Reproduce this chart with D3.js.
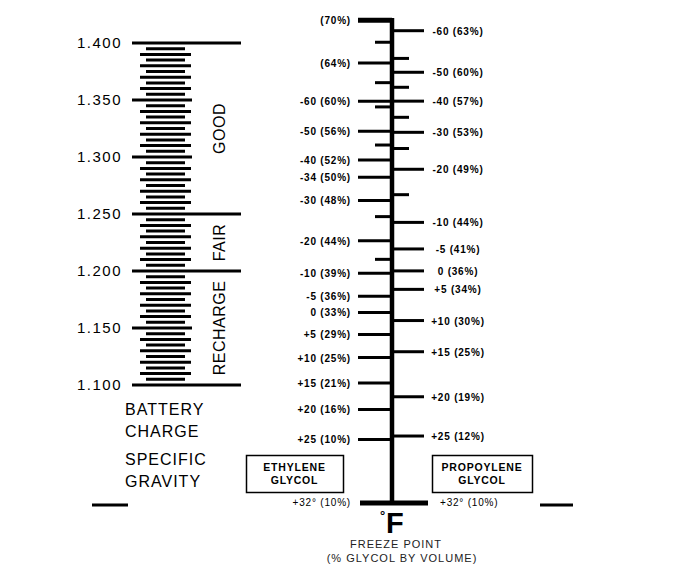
<!DOCTYPE html>
<html>
<head>
<meta charset="utf-8">
<script src="https://cdn.jsdelivr.net/npm/d3@7"></script>
<style>
  body { margin: 0; background: #fff; }
  svg { display: block; }
  text { font-family: "Liberation Sans", Arial, sans-serif; fill: #000; }
</style>
</head>
<body>
<svg id="chart" width="688" height="566"></svg>
<script>
// battery hydrometer scale
var gravityLabels = [1.100, 1.150, 1.200, 1.250, 1.300, 1.350, 1.400];
var zoneNames = ["RECHARGE", "FAIR", "GOOD"];
var zoneLimits = [1.100, 1.200, 1.250, 1.400];

// coolant scale: freeze point (F) and glycol % by volume, placed by hydrometer reading
var ethyleneLabels = ["(70%)", "(64%)", "-60 (60%)", "-50 (56%)", "-40 (52%)", "-34 (50%)",
  "-30 (48%)", "-20 (44%)", "-10 (39%)", "-5 (36%)", "0 (33%)", "+5 (29%)", "+10 (25%)",
  "+15 (21%)", "+20 (16%)", "+25 (10%)", "+32\u00b0  (10%)"];
var ethyleneReadings = [1.418, 1.381, 1.348, 1.322, 1.297, 1.282, 1.262, 1.227, 1.199,
  1.179, 1.165, 1.146, 1.126, 1.104, 1.081, 1.055, 1.000];
var ethyleneMinor = [1.399, 1.364, 1.343, 1.310, 1.248, 1.211];

var propyleneLabels = ["-60 (63%)", "-50 (60%)", "-40 (57%)", "-30 (53%)", "-20 (49%)",
  "-10 (44%)", "-5 (41%)", "0 (36%)", "+5 (34%)", "+10 (30%)", "+15 (25%)", "+20 (19%)",
  "+25 (12%)", "+32\u00b0  (10%)"];
var propyleneReadings = [1.409, 1.373, 1.348, 1.321, 1.289, 1.243, 1.220, 1.201, 1.185,
  1.158, 1.131, 1.092, 1.058, 1.000];
var propyleneMinor = [1.385, 1.360, 1.334, 1.307, 1.267];

var svg = d3.select("#chart");

var yBattery = d3.scaleLinear().domain([1.100, 1.400]).range([385, 43]);
var yCoolant = d3.scaleLinear().domain([1.000, 1.420]).range([503, 18]);

// ---- battery charge scale ----
var bat = svg.append("g");

// fine graduations every .005
var fine = yBattery.ticks(60).filter(function(d) {
  return gravityLabels.indexOf(+d.toFixed(3)) < 0;
});
bat.selectAll("line.fine")
  .data(fine)
  .enter().append("line")
    .attr("class", "fine")
    .attr("x1", function(d) { return Math.round(d * 1000) % 10 == 0 ? 140 : 146; })
    .attr("x2", function(d) { return Math.round(d * 1000) % 10 == 0 ? 191 : 185; })
    .attr("y1", function(d) { return yBattery(d); })
    .attr("y2", function(d) { return yBattery(d); })
    .attr("stroke", "#000")
    .attr("stroke-width", 3);

bat.selectAll("line.major")
  .data(gravityLabels)
  .enter().append("line")
    .attr("class", "major")
    .attr("x1", 132)
    .attr("x2", function(d) { return zoneLimits.indexOf(d) >= 0 ? 241 : 192; })
    .attr("y1", function(d) { return yBattery(d); })
    .attr("y2", function(d) { return yBattery(d); })
    .attr("stroke", "#000")
    .attr("stroke-width", 3);

bat.selectAll("text.glabel")
  .data(gravityLabels)
  .enter().append("text")
    .attr("class", "glabel")
    .attr("x", 122)
    .attr("y", function(d) { return yBattery(d) + 5; })
    .attr("text-anchor", "end")
    .style("font-size", "15px")
    .style("letter-spacing", "1.5px")
    .text(function(d) { return d.toFixed(3); });

bat.selectAll("text.zone")
  .data(zoneNames)
  .enter().append("text")
    .attr("class", "zone")
    .attr("text-anchor", "middle")
    .attr("transform", function(d, i) {
      var mid = yBattery((zoneLimits[i] + zoneLimits[i + 1]) / 2);
      return "translate(225," + mid + ") rotate(-90)";
    })
    .style("font-size", "16px")
    .style("letter-spacing", "0.5px")
    .text(function(d) { return d; });

var caption = [["BATTERY", 415], ["CHARGE", 437], ["SPECIFIC", 465], ["GRAVITY", 487]];
bat.selectAll("text.cap")
  .data(caption)
  .enter().append("text")
    .attr("class", "cap")
    .attr("x", 125)
    .attr("y", function(d) { return d[1]; })
    .style("font-size", "16px")
    .style("letter-spacing", "1px")
    .text(function(d) { return d[0]; });

svg.append("line").attr("x1", 92).attr("x2", 128).attr("y1", 505).attr("y2", 505)
  .attr("stroke", "#000").attr("stroke-width", 3);
svg.append("line").attr("x1", 540).attr("x2", 573).attr("y1", 505).attr("y2", 505)
  .attr("stroke", "#000").attr("stroke-width", 3);

// ---- coolant freeze point scale ----
var axisX = 392;
var cool = svg.append("g");

cool.append("line")
  .attr("x1", axisX).attr("x2", axisX)
  .attr("y1", yCoolant(1.420)).attr("y2", yCoolant(1.000) + 2)
  .attr("stroke", "#000")
  .attr("stroke-width", 4.5);

function side(labels, readings, minor, dir) {
  var g = cool.append("g");
  var last = readings.length - 1;
  g.selectAll("line.minor")
    .data(minor)
    .enter().append("line")
      .attr("x1", axisX)
      .attr("x2", axisX + dir * 17)
      .attr("y1", function(d) { return yCoolant(d); })
      .attr("y2", function(d) { return yCoolant(d); })
      .attr("stroke", "#000")
      .attr("stroke-width", 3);
  g.selectAll("line.tick")
    .data(readings)
    .enter().append("line")
      .attr("x1", axisX)
      .attr("x2", function(d, i) { return axisX + dir * (i == last ? (dir < 0 ? 32 : 36) : (dir < 0 ? 34 : 32)); })
      .attr("y1", function(d) { return yCoolant(d); })
      .attr("y2", function(d) { return yCoolant(d); })
      .attr("stroke", "#000")
      .attr("stroke-width", function(d, i) { return i == last || (dir < 0 && i == 0) ? 5 : 3; });
  g.selectAll("text")
    .data(labels)
    .enter().append("text")
      .attr("x", function(d, i) { return dir < 0 ? 351 : (i == last ? 440 : 458); })
      .attr("y", function(d, i) { return yCoolant(readings[i]) + (i == last ? 3 : 4); })
      .attr("text-anchor", function(d, i) { return dir < 0 ? "end" : (i == last ? "start" : "middle"); })
      .style("font-size", "10px")
      .style("font-weight", function(d, i) { return i == last ? "normal" : "bold"; })
      .style("letter-spacing", "0.8px")
      .text(function(d) { return d; });
}
side(ethyleneLabels, ethyleneReadings, ethyleneMinor, -1);
side(propyleneLabels, propyleneReadings, propyleneMinor, 1);

// glycol boxes
var boxes = [["ETHYLENE", "GLYCOL", 246, 97], ["PROPOYLENE", "GLYCOL", 432, 100]];
var bx = cool.selectAll("g.box").data(boxes).enter().append("g").attr("class", "box");
bx.append("rect")
  .attr("x", function(d) { return d[2] + 0.5; })
  .attr("y", 455.5)
  .attr("width", function(d) { return d[3]; })
  .attr("height", 37)
  .attr("fill", "#fff")
  .attr("stroke", "#000")
  .attr("stroke-width", 1.5);
bx.append("text")
  .attr("x", function(d) { return d[2] + d[3] / 2; })
  .attr("y", 471)
  .attr("text-anchor", "middle")
  .style("font-size", "10.5px").style("font-weight", "bold").style("letter-spacing", "0.8px")
  .text(function(d) { return d[0]; });
bx.append("text")
  .attr("x", function(d) { return d[2] + d[3] / 2; })
  .attr("y", 484)
  .attr("text-anchor", "middle")
  .style("font-size", "10.5px").style("font-weight", "bold").style("letter-spacing", "0.8px")
  .text(function(d) { return d[1]; });

// unit and title
cool.append("text").attr("x", 380).attr("y", 520)
  .style("font-size", "13px").style("font-weight", "bold").text("\u00b0");
cool.append("text").attr("x", 386).attr("y", 533)
  .style("font-size", "29px").style("font-weight", "bold").text("F");
cool.append("text").attr("x", 396).attr("y", 548).attr("text-anchor", "middle")
  .style("font-size", "11px").style("letter-spacing", "1px").style("fill", "#222")
  .text("FREEZE POINT");
cool.append("text").attr("x", 402).attr("y", 562).attr("text-anchor", "middle")
  .style("font-size", "11px").style("letter-spacing", "1px").style("fill", "#222")
  .text("(% GLYCOL BY VOLUME)");
</script>
</body>
</html>
